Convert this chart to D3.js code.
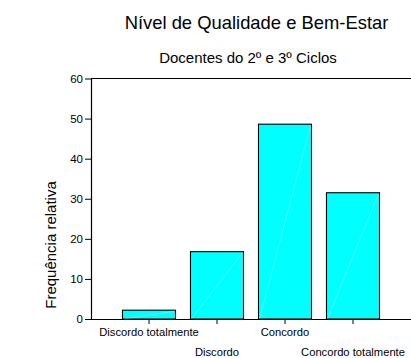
<!DOCTYPE html>
<html><head><meta charset="utf-8">
<script src="https://cdn.jsdelivr.net/npm/d3@7"></script>
<style>html,body{margin:0;padding:0;background:#fff;}svg{display:block;font-family:"Liberation Sans",Arial,sans-serif;}</style>
</head><body>
<svg id="c" width="411" height="358"></svg>
<script>
const title = "Nível de Qualidade e Bem-Estar";
const subtitle = "Docentes do 2º e 3º Ciclos";
const yLabel = "Frequência relativa";
const categories = ["Discordo totalmente", "Discordo", "Concordo", "Concordo totalmente"];
const values = [2.2, 16.8, 48.6, 31.5];
const yTicks = [0, 10, 20, 30, 40, 50, 60];

const svg = d3.select("#c");
const pLeft = 91, pRight = 411, pTop = 78.5, pBottom = 319;

const x = d3.scaleBand().domain(categories).range([115, 387]).paddingInner(0.22).paddingOuter(0.11);
const y = d3.scaleLinear().domain([0, 60]).range([pBottom, pTop]);

svg.append("text").attr("x", 256.5).attr("y", 29).attr("text-anchor", "middle")
  .attr("font-size", 18.4).attr("fill", "#000").text(title);
svg.append("text").attr("x", 248).attr("y", 62.7).attr("text-anchor", "middle")
  .attr("font-size", 15).attr("fill", "#000").text(subtitle);
svg.append("text").attr("transform", "translate(56,245) rotate(-90)").attr("text-anchor", "middle")
  .attr("font-size", 15).attr("fill", "#000").text(yLabel);

// top frame line
svg.append("line").attr("x1", pLeft).attr("x2", pRight).attr("y1", y(60)).attr("y2", y(60))
  .attr("stroke", "#000").attr("stroke-width", 1.2);

// bars
const g = svg.append("g");
g.selectAll("rect").data(values).join("rect")
  .attr("x", (d, i) => x(categories[i]))
  .attr("y", d => y(d))
  .attr("width", x.bandwidth())
  .attr("height", d => y(0) - y(d))
  .attr("fill", "#00ffff").attr("stroke", "#000").attr("stroke-width", 1.1);
g.selectAll("line.diag").data(values).join("line").attr("class", "diag")
  .attr("x1", (d, i) => x(categories[i]) + 1)
  .attr("y1", y(0))
  .attr("x2", (d, i) => x(categories[i]) + x.bandwidth() - 1)
  .attr("y2", d => y(d) + 1)
  .attr("stroke", "#ffffff").attr("stroke-opacity", 0.35).attr("stroke-width", 0.7);

// y axis
const ya = svg.append("g").attr("transform", `translate(${pLeft},0)`)
  .call(d3.axisLeft(y).tickValues(yTicks).tickSize(6).tickPadding(2).tickSizeOuter(0));
ya.select(".domain").attr("stroke", "#000").attr("stroke-width", 1.2);
ya.selectAll(".tick line").attr("stroke", "#000");
ya.selectAll(".tick text").attr("font-size", 11.5).attr("font-family", "Liberation Sans, Arial, sans-serif").attr("fill", "#000");

// x axis
const xa = svg.append("g").attr("transform", `translate(0,${pBottom})`)
  .call(d3.axisBottom(x).tickSize(5).tickSizeOuter(0));
xa.select(".domain").attr("d", `M${pLeft},0.5H${pRight}`).attr("stroke", "#000").attr("stroke-width", 1.2);
xa.selectAll(".tick line").attr("stroke", "#000");
xa.selectAll(".tick text").attr("font-size", 11.2).attr("font-family", "Liberation Sans, Arial, sans-serif")
  .attr("fill", "#000").attr("dy", null)
  .attr("y", (d, i) => i % 2 === 0 ? 17 : 37);
</script>
</body></html>
